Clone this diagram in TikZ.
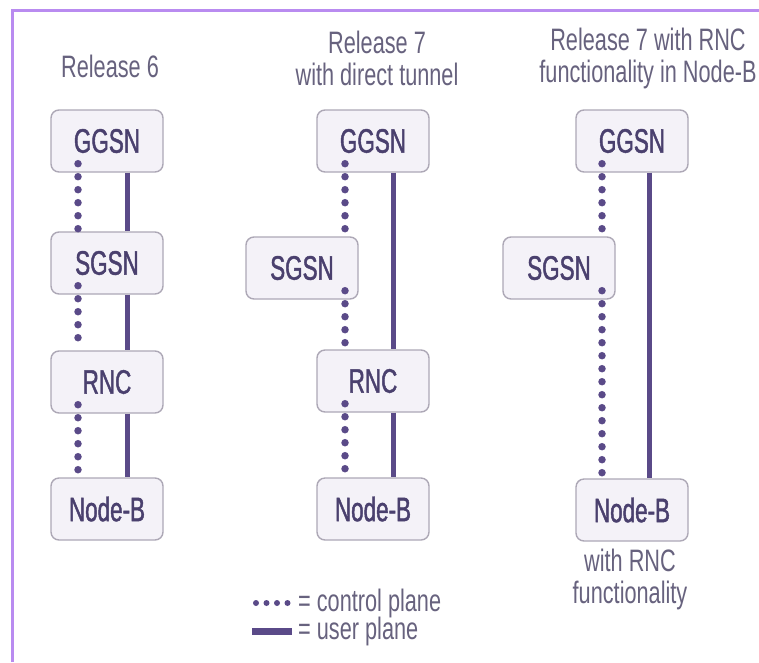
\documentclass[tikz,border=0pt]{standalone}
\usepackage{fontspec}
\setmainfont{Liberation Sans}[FakeStretch=0.7]
\newfontfamily\boxfont{Liberation Sans}[FakeStretch=0.66, FakeBold=1.3]
\definecolor{frameviolet}{HTML}{B98BF0}
\definecolor{planeviolet}{HTML}{5A4A88}
\definecolor{boxtext}{HTML}{4A406E}
\definecolor{labeltext}{HTML}{67627E}
\definecolor{boxfill}{HTML}{F4F2F8}
\definecolor{boxedge}{HTML}{ADA8B6}
\tikzset{
  netbox/.style={draw=boxedge, line width=1.4pt, fill=boxfill, rounded corners=8pt,
    minimum width=112pt, minimum height=62pt, inner sep=0pt,
    text=boxtext, font=\boxfont\fontsize{34}{36}\selectfont},
  caption/.style={text=labeltext, font=\fontsize{31}{32}\selectfont, align=center, inner sep=0pt},
  ctrl/.style={draw=planeviolet, line width=7.5pt, line cap=round, dash pattern=on 0pt off 13pt},
  userp/.style={draw=planeviolet, line width=5pt},
}
\begin{document}
\begin{tikzpicture}[x=1pt,y=-1pt]
\useasboundingbox (0,0) rectangle (759,662);
\fill[white] (0,0) rectangle (759,662);
% frame edges
\draw[frameviolet, line width=3pt] (12,662) -- (12,10) -- (759,10);

% column headings
\node[caption] (h1) at (110,66) {Release 6};
\node[caption] (h2) at (377,58) {Release 7\\with direct tunnel};
\node[caption] (h3) at (648,58) {Release 7 with RNC\\functionality in Node-B};

% Release 6
\node[netbox] (g1) at (107,141) {GGSN};
\node[netbox] (s1) at (107,263) {SGSN};
\node[netbox] (r1) at (107,382) {RNC};
\node[netbox] (n1) at (107,509) {Node-B};

% Release 7 with direct tunnel
\node[netbox] (g2) at (373,141) {GGSN};
\node[netbox] (s2) at (302,268) {SGSN};
\node[netbox] (r2) at (373,381) {RNC};
\node[netbox] (n2) at (373,509) {Node-B};

% Release 7 with RNC functionality in Node-B
\node[netbox] (g3) at (632,141) {GGSN};
\node[netbox] (s3) at (559,268) {SGSN};
\node[netbox] (n3) at (632,510) {Node-B};
\node[caption] (n3note) at (630,579) {with RNC\\functionality};

% control plane paths
\draw[ctrl] ([xshift=-29pt,yshift=9pt]g1.south) -- ([xshift=-29pt]s1.north);
\draw[ctrl] ([xshift=-29pt,yshift=9pt]s1.south) -- ([xshift=-29pt]r1.north);
\draw[ctrl] ([xshift=-29pt,yshift=9pt]r1.south) -- ([xshift=-29pt]n1.north);

\draw[ctrl] ([xshift=-28pt,yshift=9pt]g2.south) -- ([xshift=-28pt]g2.south |- s2.north);
\draw[ctrl] ([xshift=-28pt,yshift=9pt]g2.south |- s2.south) -- ([xshift=-28pt]r2.north);
\draw[ctrl] ([xshift=-28pt,yshift=9pt]r2.south) -- ([xshift=-28pt]n2.north);

\draw[ctrl] ([xshift=-30pt,yshift=9pt]g3.south) -- ([xshift=-30pt]g3.south |- s3.north);
\draw[ctrl] ([xshift=-30pt,yshift=9pt]g3.south |- s3.south) -- ([xshift=-30pt]n3.north);

% user plane paths
\draw[userp] ([xshift=20pt]g1.south) -- ([xshift=20pt]s1.north);
\draw[userp] ([xshift=20pt]s1.south) -- ([xshift=20pt]r1.north);
\draw[userp] ([xshift=20pt]r1.south) -- ([xshift=20pt]n1.north);

\draw[userp] ([xshift=20pt]g2.south) -- ([xshift=20pt]r2.north);
\draw[userp] ([xshift=20pt]r2.south) -- ([xshift=20pt]n2.north);

\draw[userp] ([xshift=17pt]g3.south) -- ([xshift=17pt]n3.north);

% key
\coordinate (kc1) at (256,603);
\coordinate (kc2) at (288,603);
\coordinate (ku1) at (252,631);
\coordinate (ku2) at (292,631);
\draw[draw=planeviolet, line width=6pt, line cap=round, dash pattern=on 0pt off 10.5pt] (kc1) -- (kc2);
\draw[draw=planeviolet, line width=7pt] (ku1) -- (ku2);
\node[caption, anchor=west] (kct) at (298,603) {= control plane};
\node[caption, anchor=west] (kut) at (298,631) {= user plane};
\end{tikzpicture}
\end{document}
